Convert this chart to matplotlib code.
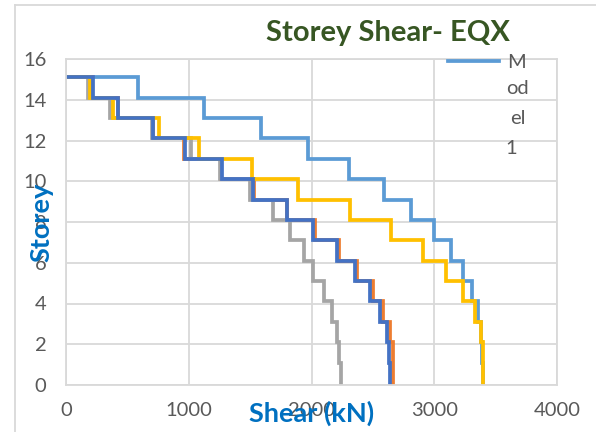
import numpy as np
import matplotlib
matplotlib.use("Agg")
import matplotlib.pyplot as plt
from matplotlib.lines import Line2D

plt.rcParams['font.family'] = ['Lato', 'DejaVu Sans']

# storey levels (top of each step) and shear for storeys 15..1
levels = [15.1, 14.1, 13.1, 12.1, 11.1, 10.1, 9.1, 8.1, 7.1, 6.1, 5.1, 4.1, 3.1, 2.1, 1.1, 0]
model1 = [584, 1124, 1585, 1969, 2303, 2588, 2814, 3000, 3139, 3232, 3310, 3356, 3381, 3390, 3395]
model2 = [215, 420, 705, 962, 1265, 1530, 1800, 2028, 2227, 2373, 2500, 2582, 2640, 2661, 2668]
model3 = [179, 358, 700, 1016, 1255, 1499, 1689, 1825, 1939, 2009, 2104, 2169, 2210, 2227, 2238]
model4 = [198, 386, 758, 1086, 1512, 1893, 2310, 2645, 2907, 3093, 3232, 3331, 3378, 3395, 3400]
model5 = [223, 426, 711, 969, 1268, 1527, 1797, 2010, 2210, 2354, 2477, 2558, 2612, 2634, 2640]

series = [model1, model2, model3, model4, model5]
colors = ['#5B9BD5', '#ED7D31', '#A5A5A5', '#FFC000', '#4472C4']


def step_path(shear):
    xs = [0]
    ys = [levels[0]]
    for i, v in enumerate(shear):
        xs += [v, v]
        ys += [levels[i], levels[i + 1]]
    return xs, ys


fig = plt.figure(figsize=(5.96, 4.32), dpi=100)
ax = fig.add_axes([66 / 596, 1 - 385 / 432, 491 / 596, 326 / 432])

for s, c in zip(series, colors):
    xs, ys = step_path(s)
    ax.plot(xs, ys, color=c, lw=2.7, solid_joinstyle='miter')

ax.set_xlim(0, 4000)
ax.set_ylim(0, 16)
ax.set_xticks(np.arange(0, 4001, 1000))
ax.set_yticks(np.arange(0, 17, 2))
ax.grid(True, color='#D9D9D9', lw=1.3)
ax.set_axisbelow(True)
for sp in ax.spines.values():
    sp.set_color('#D9D9D9')
    sp.set_linewidth(1.3)
ax.tick_params(length=0, labelsize=14.5, labelcolor='#595959')
ax.tick_params(axis='x', pad=12)
ax.tick_params(axis='y', pad=14)

ax.set_xlabel('Shear (kN)', fontsize=19.5, fontweight='bold', color='#0070C0', va='center')
ax.xaxis.set_label_coords(0.501, -0.086)
ax.set_ylabel('Storey', fontsize=19.5, fontweight='bold', color='#0070C0', va='center')
ax.yaxis.set_label_coords(-0.051, 0.5)

fig.text(388 / 596, 1 - 33 / 432, 'Storey Shear- EQX', fontsize=21, fontweight='bold',
         color='#375623', ha='center', va='center')

# legend squeezed into a narrow box, as in the original
fig.add_artist(Line2D([448 / 596, 499 / 596], [1 - 60.5 / 432] * 2, color=colors[0], lw=2.7))
for txt, x, y in [('M', 507, 62), ('od', 506, 89), ('el', 510, 119), ('1', 505, 148)]:
    fig.text(x / 596, 1 - y / 432, txt, fontsize=14.5, color='#595959', ha='left', va='center')

# chart area border
fig.add_artist(Line2D([15 / 596, 15 / 596], [0, 1 - 5 / 432], color='#D9D9D9', lw=1.3))
fig.add_artist(Line2D([15 / 596, 1], [1 - 5 / 432] * 2, color='#D9D9D9', lw=1.3))

fig.savefig('out.png', dpi=100)
